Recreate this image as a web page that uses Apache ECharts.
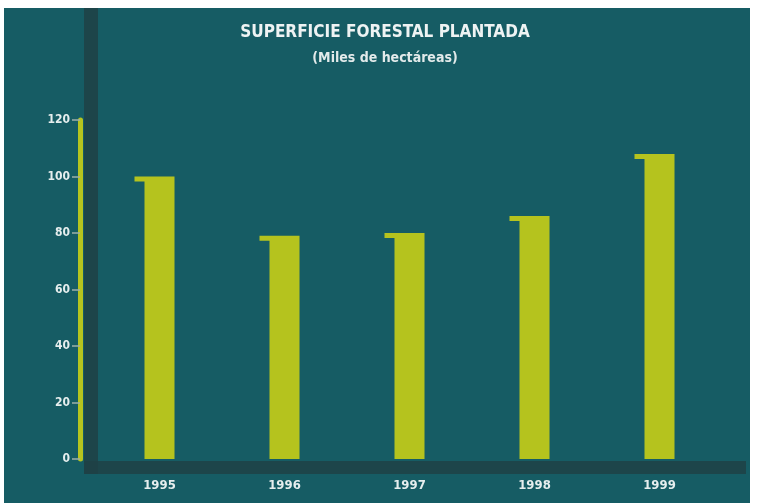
<!DOCTYPE html>
<html><head><meta charset="utf-8">
<script src="https://cdn.jsdelivr.net/npm/echarts@6/dist/echarts.min.js"></script>
<style>html,body{margin:0;padding:0;background:#fff}#c{width:758px;height:503px}</style>
</head><body><div id="c"></div>
<script>
const categories = ['1995','1996','1997','1998','1999'];
const values = [100, 79, 80, 86, 108];
const yTicks = [0,20,40,60,80,100,120];

const chart = echarts.init(document.getElementById('c'));
const condensed = '"DejaVu Sans Condensed","Liberation Sans Narrow",sans-serif';
chart.setOption({
  animation:false,
  backgroundColor:'#ffffff',
  graphic:[
    {type:'rect',z:-10,shape:{x:4,y:8,width:746,height:495},style:{fill:'#165c64'}},
    {type:'rect',z:-9,shape:{x:84,y:8,width:14,height:466},style:{fill:'#1f4145',opacity:0.85}},
    {type:'rect',z:-9,shape:{x:84,y:461,width:662,height:13},style:{fill:'#1f4145',opacity:0.85}}
  ],
  title:{
    text:'SUPERFICIE FORESTAL PLANTADA',
    subtext:'(Miles de hectáreas)',
    left:380, top:19, textAlign:'center', itemGap:10,
    textStyle:{color:'#eef3f3',fontFamily:condensed,fontWeight:'bold',fontSize:17},
    subtextStyle:{color:'#e2eaea',fontFamily:condensed,fontWeight:'bold',fontSize:14}
  },
  grid:{left:97,right:36,top:120,bottom:44},
  xAxis:{
    type:'category',data:categories,
    axisLine:{show:false},axisTick:{show:false},
    axisLabel:{color:'#e6eeee',fontFamily:condensed,fontWeight:'bold',fontSize:13,margin:20}
  },
  yAxis:{
    type:'value',min:0,max:120,interval:20,offset:17,
    axisLine:{show:true,lineStyle:{color:'#b6c41f',width:5}},
    axisTick:{show:true,length:8,lineStyle:{color:'#9fb0a8',width:1.5}},
    splitLine:{show:false},
    axisLabel:{color:'#e6eeee',fontFamily:condensed,fontWeight:'bold',fontSize:12,margin:10,
      formatter:v=>yTicks.includes(v)?String(v):''}
  },
  series:[{
    type:'custom',
    data:values.map((v,i)=>[i,v]),
    renderItem:function(params,api){
      const base=api.coord([api.value(0),0]);
      const top=api.coord([api.value(0),api.value(1)]);
      const w=30, x0=top[0]-w/2;
      return {type:'polygon',shape:{points:[
        [x0-10,top[1]],[x0+w,top[1]],[x0+w,base[1]],[x0,base[1]],[x0,top[1]+5],[x0-10,top[1]+5]
      ]},style:{fill:'#b5c31e'}};
    }
  }]
});
</script></body></html>
